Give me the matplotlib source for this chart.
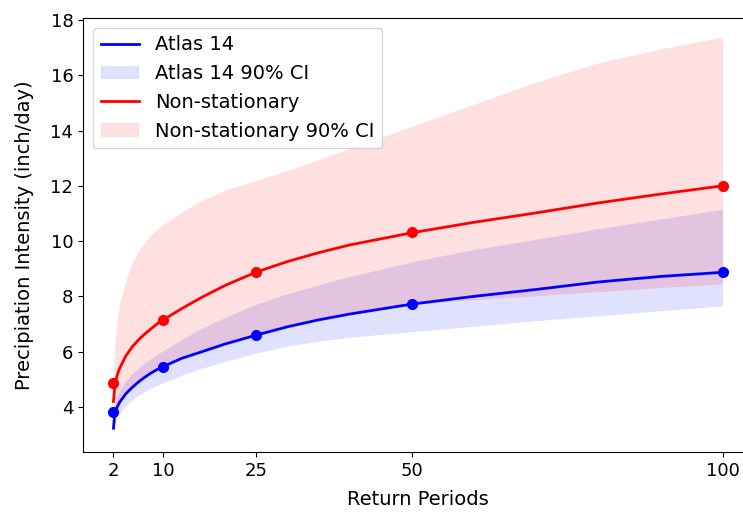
import matplotlib
matplotlib.use("Agg")
from matplotlib import pyplot as plt

x_curve = [2, 2.15, 2.3, 2.6, 3, 4, 5, 6, 7, 8, 9, 10, 13, 16, 20, 25, 30, 35, 40, 50,
           60, 70, 80, 90, 100]

atlas_line = [3.23, 3.6, 3.83, 4.0, 4.17, 4.48, 4.7, 4.9, 5.07, 5.22, 5.35, 5.46, 5.76, 5.98,
              6.28, 6.6, 6.9, 7.15, 7.36, 7.72, 8.0, 8.25, 8.52, 8.72, 8.87]
atlas_lo = [3.1, 3.3, 3.45, 3.62, 3.78, 4.05, 4.25, 4.42, 4.56, 4.68, 4.79, 4.88, 5.15, 5.38,
            5.65, 5.95, 6.2, 6.38, 6.52, 6.72, 6.92, 7.12, 7.3, 7.48, 7.65]
atlas_hi = [3.5, 3.9, 4.15, 4.4, 4.6, 4.95, 5.2, 5.4, 5.59, 5.75, 5.9, 6.03, 6.45, 6.82,
            7.25, 7.72, 8.1, 8.42, 8.72, 9.25, 9.7, 10.07, 10.45, 10.8, 11.15]

ns_line = [4.2, 4.6, 4.87, 5.15, 5.4, 5.85, 6.17, 6.42, 6.63, 6.82, 7.0, 7.15, 7.56, 7.94,
           8.4, 8.88, 9.26, 9.58, 9.86, 10.3, 10.68, 11.02, 11.38, 11.7, 12.0]
ns_lo = [3.4, 3.7, 3.9, 4.05, 4.25, 4.55, 4.78, 4.97, 5.13, 5.27, 5.4, 5.5, 5.8, 6.02,
         6.32, 6.62, 6.9, 7.12, 7.35, 7.72, 7.88, 8.02, 8.17, 8.32, 8.45]
ns_hi = [4.9, 5.9, 6.5, 7.2, 7.75, 8.6, 9.2, 9.62, 9.95, 10.22, 10.43, 10.6, 11.05, 11.45,
         11.85, 12.2, 12.55, 12.95, 13.35, 14.15, 14.95, 15.75, 16.45, 16.95, 17.38]

# values at the marked return periods
periods = [2, 10, 25, 50, 100]
atlas_pts = [3.8, 5.45, 6.6, 7.72, 8.87]
ns_pts = [4.87, 7.13, 8.87, 10.32, 12.0]

fig = plt.figure(figsize=(7.43, 5.14), dpi=100)
ax1 = fig.add_axes([83 / 743, 1 - 452 / 514, (753 - 83) / 743, (452 - 18) / 514])

ax1.plot(x_curve, atlas_line, c='b', lw=2, label='Atlas 14', zorder=3)
ax1.fill_between(x_curve, atlas_lo, atlas_hi, color='b', alpha=0.12, lw=0, label='Atlas 14 90% CI')
ax1.plot(x_curve, ns_line, c='r', lw=2, label='Non-stationary', zorder=3)
ax1.fill_between(x_curve, ns_lo, ns_hi, color='r', alpha=0.12, lw=0, label='Non-stationary 90% CI')
ax1.plot(periods, atlas_pts, 'o', c='b', ms=7, zorder=4)
ax1.plot(periods, ns_pts, 'o', c='r', ms=7, zorder=4)

ax1.set_xlim(-2.9, 104.9)
ax1.set_ylim(2.37, 18.07)
ax1.set_xticks(periods)
ax1.set_yticks([4, 6, 8, 10, 12, 14, 16, 18])
ax1.tick_params(labelsize=13)
ax1.set_xlabel('Return Periods', fontsize=14, labelpad=7.5)
ax1.set_ylabel('Precipiation Intensity (inch/day)', fontsize=14, labelpad=12)

leg = ax1.legend(loc='upper left', fontsize=14)

fig.savefig('out.png', dpi=100)
